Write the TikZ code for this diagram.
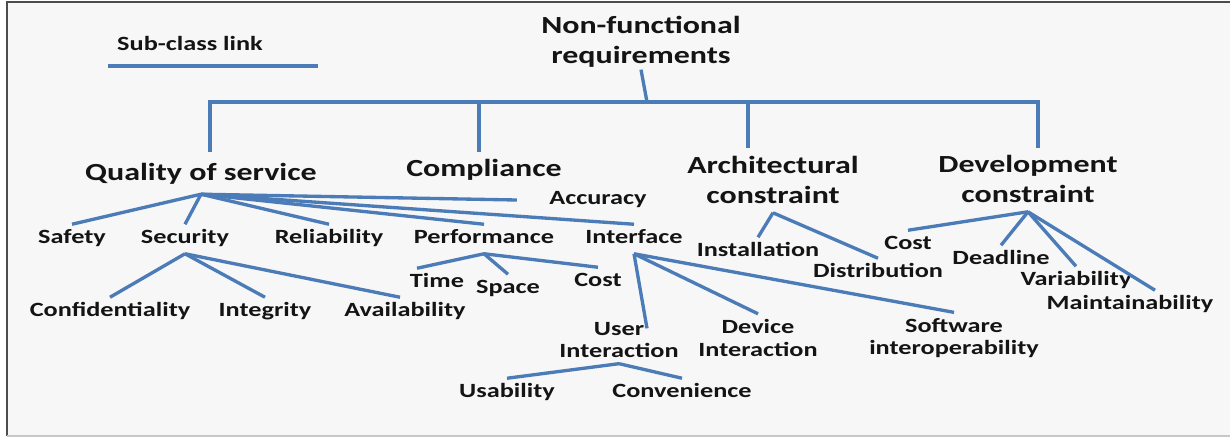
\documentclass[tikz,border=0pt]{standalone}
\usepackage{fontspec}
\newfontfamily\nfrfont[FakeStretch=1.3]{Carlito}
\usetikzlibrary{positioning}

\definecolor{linkblue}{RGB}{76,124,184}
\definecolor{ink}{RGB}{20,20,20}
\definecolor{paper}{RGB}{247,247,247}

\begin{document}
\begin{tikzpicture}[x=0.02cm,y=-0.02cm,
        every node/.style={align=center,text=ink},
        head/.style={font=\nfrfont\bfseries\fontsize{14}{17}\selectfont,inner sep=5pt},
        headline/.style={head,text height=9.8pt,text depth=2.8pt},
        leaf/.style={font=\nfrfont\bfseries\fontsize{11.5}{13}\selectfont,inner sep=3pt},
        leafline/.style={leaf,text height=8pt,text depth=2.4pt},
        link/.style={draw=linkblue,line width=1.9pt},
        every edge/.style={link},
        ]

\useasboundingbox (0,0) rectangle (1230,437);
\fill[paper] (7,2) rectangle (1230,436);
\draw[line width=0.8pt,black!70] (1230,2) -- (7,2) -- (7,436);
\draw[line width=0.8pt,black!22] (7,436) -- (1230,436);

% legend
\node[leafline] (key) at (190,46) {Sub-class link};
\coordinate (keyA) at (108,66);
\coordinate (keyB) at (318,66);
\path[link] (keyA) edge (keyB);

% top level
\node[head,inner sep=1pt] (nfr) at (641,42) {Non-functional\\requirements};
\node[headline] (qos) at (201,174) {Quality of service};
\node[headline] (comp) at (484,170) {Compliance};
\node[head] (arch) at (773,180) {Architectural\\constraint};
\node[head] (dev) at (1028,179) {Development\\constraint};

\coordinate (bar) at (647,102);
\coordinate (qosTop) at (210,152);
\coordinate (compTop) at (479,152);
\coordinate (archTop) at (748,148);
\coordinate (devTop) at (1038,148);

\path[link] (nfr.south) edge (bar);
\draw[link] (qosTop) |- (bar) -| (devTop);
\path[link] (compTop |- bar) edge (compTop);
\path[link] (archTop |- bar) edge (archTop);

% quality of service
\node[leafline] (safety) at (72,239) {Safety};
\node[leafline] (security) at (185,239) {Security};
\node[leafline] (reliab) at (329,239) {Reliability};
\node[leafline] (perf) at (484,239) {Performance};
\node[leafline] (iface) at (634,239) {Interface};
\node[leafline] (acc) at (598,200) {Accuracy};

\path[link] (qos.south) edge (safety.north);
\path[link] (qos.south) edge (security.north);
\path[link] (qos.south) edge (reliab.north);
\path[link] (qos.south) edge ([xshift=-0.54cm]acc.west);
\path[link] (qos.south) edge (perf.north);
\path[link] (qos.south) edge (iface.north);

% security
\node[leafline] (confid) at (110,312) {Confidentiality};
\node[leafline] (integ) at (265,312) {Integrity};
\node[leafline] (avail) at (405,312) {Availability};

\path[link] (security.south) edge (confid.north);
\path[link] (security.south) edge (integ.north);
\path[link] (security.south) edge ([xshift=-0.1cm]avail.north);

% performance
\node[leafline] (time) at (437,283) {Time};
\node[leafline] (space) at (508,289) {Space};
\node[leafline] (perfcost) at (598,282) {Cost};

\path[link] (perf.south) edge ([xshift=-0.4cm]time.north);
\path[link] (perf.south) edge (space.north);
\path[link] (perf.south) edge (perfcost.north);

% interface
\node[leaf] (userint) at (619,340) {User\\Interaction};
\node[leaf] (devint) at (758,338) {Device\\Interaction};
\node[leaf] (softint) at (954,338) {Software\\interoperability};

\path[link] (iface.south) edge ([xshift=0.56cm,yshift=-0.24cm]userint.north);
\path[link] (iface.south) edge (devint.north);
\path[link] (iface.south) edge (softint.north);

\node[leafline] (usab) at (507,393) {Usability};
\node[leafline] (conv) at (682,393) {Convenience};

\path[link] (userint.south) edge (usab.north);
\path[link] (userint.south) edge (conv.north);

% architectural constraint
\node[leafline] (install) at (758,252) {Installation};
\node[leafline] (distrib) at (878,273) {Distribution};

\path[link] (arch.south) edge (install.north);
\path[link] (arch.south) edge (distrib.north);

% development constraint
\node[leafline] (devcost) at (908,245) {Cost};
\node[leafline] (deadline) at (1001,260) {Deadline};
\node[leafline] (variab) at (1076,281) {Variability};
\node[leafline] (maint) at (1130,305) {Maintainability};

\path[link] (dev.south) edge (devcost.north);
\path[link] (dev.south) edge (deadline.north);
\path[link] (dev.south) edge (variab.north);
\path[link] (dev.south) edge ([xshift=0.5cm]maint.north);

\end{tikzpicture}
\end{document}
